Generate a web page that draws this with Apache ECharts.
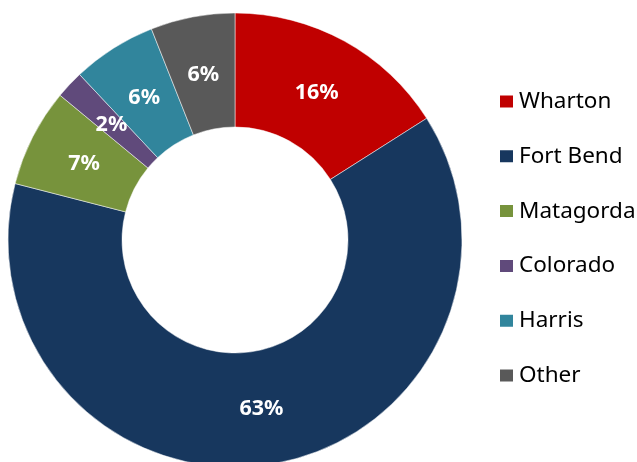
<!DOCTYPE html>
<html>
<head>
<meta charset="utf-8">
<script src="https://cdn.jsdelivr.net/npm/echarts@6/dist/echarts.min.js"></script>
<style>
html,body{margin:0;padding:0;background:#fff;}
#chart{width:637px;height:462px;}
</style>
</head>
<body>
<div id="chart"></div>
<script>
var categories = ['Wharton', 'Fort Bend', 'Matagorda', 'Colorado', 'Harris', 'Other'];
var values = [16, 63, 7, 2, 6, 6];
var colors = ['#C00000', '#17375E', '#77933C', '#604A7B', '#31859C', '#595959'];

var data = categories.map(function (c, i) {
  return { name: c, value: values[i], itemStyle: { color: colors[i] } };
});

var CX = 235, CY = 240;
var chart = echarts.init(document.getElementById('chart'), null, { renderer: 'canvas' });
chart.setOption({
  animation: false,
  backgroundColor: '#ffffff',
  legend: {
    orient: 'vertical',
    left: 493,
    top: 85,
    itemWidth: 15,
    itemHeight: 14,
    itemGap: 31.8,
    icon: 'rect',
    data: categories,
    textStyle: {
      fontFamily: 'Noto Sans',
      fontSize: 22.5,
      lineHeight: 22,
      color: '#000000'
    }
  },
  series: [{
    type: 'pie',
    center: [CX, CY],
    radius: [113, 227],
    startAngle: 90,
    clockwise: true,
    avoidLabelOverlap: false,
    itemStyle: { borderColor: '#ffffff', borderWidth: 0.5 },
    label: {
      show: true,
      position: 'inside',
      formatter: function (p) { return p.value + '%'; },
      color: '#ffffff',
      fontFamily: 'Noto Sans',
      fontWeight: 'bold',
      fontSize: 21.5
    },
    labelLayout: function (p) {
      var r = p.labelRect;
      var mx = r.x + r.width / 2, my = r.y + r.height / 2;
      var dx = mx - CX, dy = my - CY;
      var d = Math.sqrt(dx * dx + dy * dy);
      var k = (d - 3.5) / d;
      return { x: CX + dx * k, y: CY + dy * k + 1, align: 'center', verticalAlign: 'middle' };
    },
    labelLine: { show: false },
    emphasis: { disabled: true },
    data: data
  }]
});
</script>
</body>
</html>
